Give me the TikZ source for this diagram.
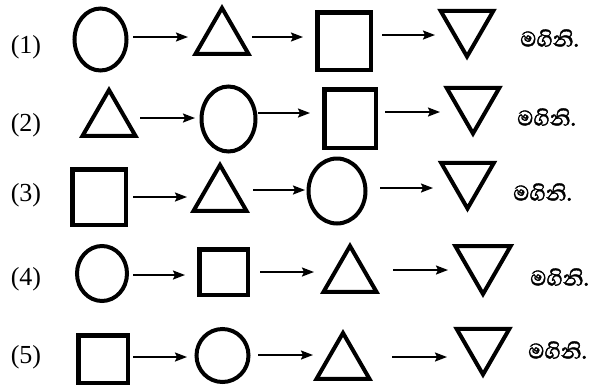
\documentclass[tikz,border=0pt]{standalone}
\usepackage{fontspec}
\setmainfont{Liberation Serif}
\newfontfamily\sinhalafont[Script=Sinhala,FakeBold=1.5]{Abhaya Libre}
\usetikzlibrary{shapes.geometric,arrows.meta}
\tikzset{
  circ/.style={draw, ellipse, line width=4pt, inner sep=0pt},
  sqr/.style={draw, rectangle, line width=4.5pt, inner sep=0pt},
  tri/.style={draw, regular polygon, regular polygon sides=3, line width=4pt, inner sep=0pt, minimum size=61pt},
  itri/.style={tri, shape border rotate=180},
  arr/.style={line width=1.8pt, -{Stealth[length=12pt,width=9pt,inset=2pt]}},
  lbl/.style={inner sep=0pt, font=\fontsize{26}{30}\selectfont},
  sin/.style={inner sep=0pt, anchor=west, font=\sinhalafont\fontsize{27}{30}\selectfont}
}
\begin{document}
\begin{tikzpicture}[x=1pt,y=-1pt]
\useasboundingbox (0,0) rectangle (600,386);
% labels
\node[lbl] (l1) at (26,47) {(1)};
\node[lbl] (l2) at (26,125) {(2)};
\node[lbl] (l3) at (26,195) {(3)};
\node[lbl] (l4) at (26,279) {(4)};
\node[lbl] (l5) at (26,357) {(5)};
% row 1
\node[circ, minimum width=52pt, minimum height=62pt] (r1a) at (100.5,39.5) {};
\node[tri] (r1b) at (222,38.5) {};
\node[sqr, minimum width=53.5pt, minimum height=57.5pt] (r1c) at (344,41) {};
\node[itri] (r1d) at (467,26) {};
\node[sin] (s1) at (520,38) {මගිනි.};
% row 2
\node[tri] (r2a) at (109,120.5) {};
\node[circ, minimum width=54pt, minimum height=65pt] (r2b) at (228.5,119) {};
\node[sqr, minimum width=51.5pt, minimum height=58.5pt] (r2c) at (350,118.5) {};
\node[itri] (r2d) at (473,103) {};
\node[sin] (s2) at (517,117) {මගිනි.};
% row 3
\node[sqr, minimum width=53.5pt, minimum height=55.5pt] (r3a) at (99,197) {};
\node[tri] (r3b) at (220,195.5) {};
\node[circ, minimum width=57pt, minimum height=65pt] (r3c) at (337,191) {};
\node[itri] (r3d) at (467.5,178) {};
\node[sin] (s3) at (513,192) {මගිනි.};
% row 4
\node[circ, minimum width=50pt, minimum height=55pt] (r4a) at (102,273.5) {};
\node[sqr, minimum width=48.5pt, minimum height=45.5pt] (r4b) at (223.5,272) {};
\node[tri] (r4c) at (350,276.5) {};
\node[itri, minimum size=64pt] (r4d) at (483,262) {};
\node[sin] (s4) at (530,277) {මගිනි.};
% row 5
\node[sqr, minimum width=49.5pt, minimum height=47.5pt] (r5a) at (103,359) {};
\node[circ, minimum width=52pt, minimum height=53pt] (r5b) at (222.5,355.5) {};
\node[tri] (r5c) at (343,363.5) {};
\node[itri] (r5d) at (483,344) {};
\node[sin] (s5) at (528,350) {මගිනි.};
% arrows
\foreach \xa/\xb/\y [count=\i] in {
  133/188/37, 252/303/37, 382/435/35,
  140/195/118, 258/310/113, 385/440/112,
  133/187/197, 253/305/190, 380/433/188,
  133/185/275, 260/314/272, 393/448/270,
  133/187/357, 258/313/355, 392/447/357}{
  \coordinate (as\i) at (\xa,\y);
  \coordinate (ae\i) at (\xb,\y);
  \draw[arr] (as\i) -- (ae\i);
}
\end{tikzpicture}
\end{document}
